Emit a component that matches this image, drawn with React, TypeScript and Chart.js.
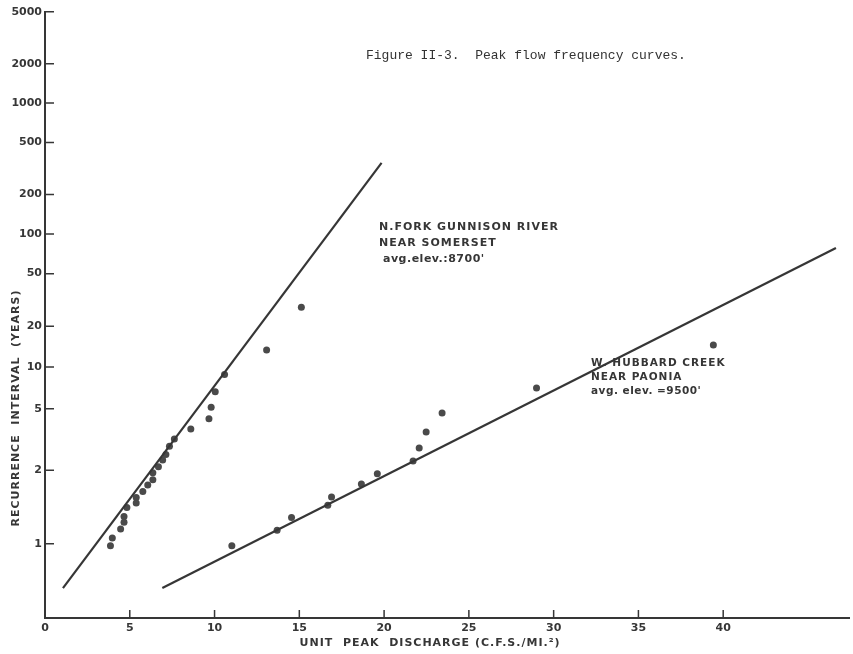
import React, { useEffect, useRef } from 'react';
import { Chart, registerables } from 'chart.js';

Chart.register(...registerables);

// ---- Data (x: unit peak discharge, y: recurrence interval in years) ----
const nForkDischarge = [3.86, 3.97, 4.46, 4.66, 4.66, 4.83, 5.38, 5.38, 5.77, 6.06, 6.36, 6.36, 6.69, 6.94, 7.13, 7.34, 7.63, 8.6, 9.67, 9.8, 10.04, 10.59, 13.07, 15.12];
const nForkInterval = [0.99, 1.03, 1.09, 1.145, 1.2, 1.3, 1.36, 1.44, 1.54, 1.66, 1.77, 1.94, 2.1, 2.3, 2.49, 2.8, 3.12, 3.64, 4.26, 5.13, 6.61, 8.78, 13.3, 27.8];

const hubbardDischarge = [11.02, 13.69, 14.54, 16.68, 16.9, 18.66, 19.6, 21.71, 22.07, 22.48, 23.42, 28.99, 39.42];
const hubbardInterval = [0.99, 1.08, 1.19, 1.33, 1.45, 1.68, 1.91, 2.27, 2.73, 3.47, 4.68, 7.03, 14.5];

const nForkFitDischarge = [1.06, 19.85];
const nForkFitInterval = [0.9, 348.7];
const hubbardFitDischarge = [6.92, 46.65];
const hubbardFitInterval = [0.9, 78.3];

const yTickValues = [1, 2, 5, 10, 20, 50, 100, 200, 500, 1000, 2000, 5000];
const yTickLabels = ['1', '2', '5', '10', '20', '50', '100', '200', '500', '1000', '2000', '5000'];
const xTickValues = [0, 5, 10, 15, 20, 25, 30, 35, 40];
const xTickLabels = ['0', '5', '10', '15', '20', '25', '30', '35', '40'];

const Y_MIN = 0.89417;
const Y_MAX = 5000;
const X_MIN = 0;
const X_MAX = 47.42;

// Extreme-value (Gumbel) probability paper: reduced variate of the recurrence interval
const PAPER_SHIFT = 0.106;
const reducedVariate = (t: number) => -Math.log(-Math.log(1 - 1 / (t + PAPER_SHIFT)));

const INK = '#363636';
const DOT = '#4a4a4a';
const SANS = '"DejaVu Sans", "Liberation Sans", sans-serif';

const toPoints = (xs: number[], ys: number[]) => xs.map((x, i) => ({ x, y: reducedVariate(ys[i]) }));

const decorations = {
  id: 'decorations',
  afterDraw(chart: any) {
    const { ctx, chartArea, scales } = chart;
    const xs = scales.x;
    const ys = scales.y;
    ctx.save();
    // inward tick marks
    ctx.strokeStyle = INK;
    ctx.lineWidth = 1.5;
    ctx.beginPath();
    xs.ticks.forEach((_t: any, i: number) => {
      const px = xs.getPixelForTick(i);
      ctx.moveTo(px, chartArea.bottom);
      ctx.lineTo(px, chartArea.bottom - 8);
    });
    ys.ticks.forEach((_t: any, i: number) => {
      const py = ys.getPixelForTick(i);
      ctx.moveTo(chartArea.left, py);
      ctx.lineTo(chartArea.left + 9, py);
    });
    ctx.stroke();

    const text = (s: string, x: number, y: number, font: string, spacing: string, align = 'left') => {
      ctx.font = font;
      (ctx as any).letterSpacing = spacing;
      ctx.textAlign = align;
      ctx.textBaseline = 'middle';
      ctx.fillText(s, x, y);
    };
    ctx.fillStyle = INK;

    // axis titles
    text('UNIT  PEAK  DISCHARGE (C.F.S./MI.\u00B2)', 430, 643, `bold 11px ${SANS}`, '1px', 'center');
    ctx.save();
    ctx.translate(16, 408);
    ctx.rotate(-Math.PI / 2);
    text('RECURRENCE  INTERVAL  (YEARS)', 0, 0, `bold 11px ${SANS}`, '1px', 'center');
    ctx.restore();

    // caption
    ctx.fillStyle = '#333';
    text('Figure II-3.  Peak flow frequency curves.', 366, 56, '13px "Liberation Mono", monospace', '0px');

    // curve labels
    ctx.fillStyle = INK;
    const f1 = `bold 11px ${SANS}`;
    text('N.FORK GUNNISON RIVER', 379, 227, f1, '1px');
    text('NEAR SOMERSET', 379, 243, f1, '1px');
    text("avg.elev.:8700'", 383, 259, f1, '0.5px');
    const f2 = `bold 10.5px ${SANS}`;
    text('W. HUBBARD CREEK', 591, 363, f2, '1px');
    text('NEAR PAONIA', 591, 377, f2, '1px');
    text("avg. elev. =9500'", 591, 391, f2, '0.5px');
    ctx.restore();
  },
};

export default function App() {
  const ref = useRef<HTMLCanvasElement>(null);
  useEffect(() => {
    const tickFont = { family: SANS, size: 11, weight: 'bold' as const };
    const chart = new Chart(ref.current as HTMLCanvasElement, {
      type: 'scatter',
      data: {
        datasets: [
          {
            label: 'N. Fork Gunnison River near Somerset (fitted)',
            data: toPoints(nForkFitDischarge, nForkFitInterval),
            showLine: true,
            pointRadius: 0,
            borderColor: INK,
            borderWidth: 2.2,
          },
          {
            label: 'W. Hubbard Creek near Paonia (fitted)',
            data: toPoints(hubbardFitDischarge, hubbardFitInterval),
            showLine: true,
            pointRadius: 0,
            borderColor: INK,
            borderWidth: 2.2,
          },
          {
            label: 'N. Fork Gunnison River near Somerset',
            data: toPoints(nForkDischarge, nForkInterval),
            pointRadius: 3.5,
            backgroundColor: DOT,
            borderWidth: 0,
          },
          {
            label: 'W. Hubbard Creek near Paonia',
            data: toPoints(hubbardDischarge, hubbardInterval),
            pointRadius: 3.5,
            backgroundColor: DOT,
            borderWidth: 0,
          },
        ],
      },
      options: {
        animation: false,
        responsive: false,
        events: [],
        layout: { padding: { top: 11.7, right: 0, left: 0, bottom: 0 } },
        plugins: { legend: { display: false }, tooltip: { enabled: false } },
        scales: {
          x: {
            type: 'linear',
            min: X_MIN,
            max: X_MAX,
            grid: { display: false, drawTicks: false },
            border: { display: true, color: INK, width: 2 },
            ticks: {
              padding: 4,
              font: tickFont,
              color: INK,
              autoSkip: false,
              maxRotation: 0,
              callback: (_v: any, i: number) => xTickLabels[i],
            },
            afterBuildTicks: (s: any) => {
              s.ticks = xTickValues.map((v) => ({ value: v }));
            },
            afterFit: (s: any) => {
              s.height = 36;
            },
          },
          y: {
            type: 'linear',
            min: reducedVariate(Y_MIN),
            max: reducedVariate(Y_MAX),
            grid: { display: false, drawTicks: false },
            border: { display: true, color: INK, width: 2 },
            ticks: {
              padding: 3,
              font: tickFont,
              color: INK,
              autoSkip: false,
              callback: (_v: any, i: number) => yTickLabels[i],
            },
            afterBuildTicks: (s: any) => {
              s.ticks = yTickValues.map((v) => ({ value: reducedVariate(v) }));
            },
            afterFit: (s: any) => {
              s.width = 45;
            },
          },
        },
      },
      plugins: [decorations],
    });
    return () => chart.destroy();
  }, []);
  return (
    <div style={{ position: 'absolute', left: 0, top: 0, width: 853, height: 654, background: '#fff' }}>
      <canvas ref={ref} width={853} height={654} style={{ display: 'block' }} />
    </div>
  );
}
